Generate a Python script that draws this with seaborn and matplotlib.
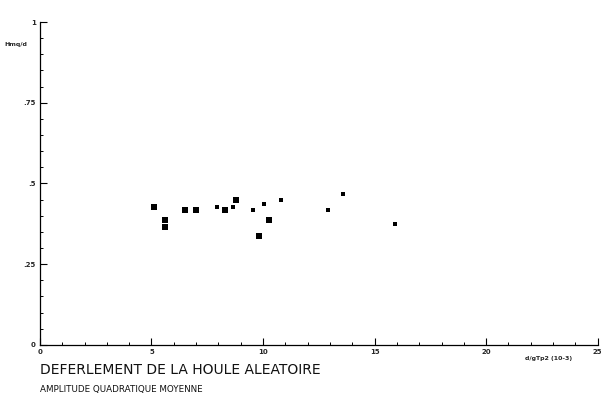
import numpy as np
import pandas as pd
import matplotlib
matplotlib.use('Agg')
import matplotlib.pyplot as plt
from matplotlib.ticker import MultipleLocator
import seaborn as sns

# data (x in 10^-3, y = Hmq/d)
big_x = [5.1, 5.6, 5.6, 6.5, 7.0, 8.3, 8.8, 9.8, 10.25]
big_y = [0.427, 0.387, 0.365, 0.417, 0.417, 0.417, 0.449, 0.336, 0.387]
small_x = [7.95, 8.65, 9.55, 10.05, 10.8, 12.9, 13.6, 15.9]
small_y = [0.427, 0.427, 0.417, 0.437, 0.449, 0.417, 0.468, 0.375]

xticks = [0, 5, 10, 15, 20, 25]
xlabels = ['0', '5', '10', '15', '20', '25']
yticks = [0, 0.25, 0.5, 0.75, 1]
ylabels = ['0', '.25', '.5', '.75', '1']

df_big = pd.DataFrame({'x': big_x, 'y': big_y})
df_small = pd.DataFrame({'x': small_x, 'y': small_y})

sns.set_style('white')
plt.rcParams['font.family'] = ['DejaVu Sans']

fig = plt.figure(figsize=(6.05, 4.01), dpi=100)
ax = fig.add_axes([0.066, 0.140, 0.922, 0.805])

sns.scatterplot(data=df_big, x='x', y='y', marker='s', s=18, color='black',
                edgecolor='black', linewidth=0, ax=ax)
sns.scatterplot(data=df_small, x='x', y='y', marker='s', s=7, color='black',
                edgecolor='black', linewidth=0, ax=ax)

ax.set_xlim(0, 25)
ax.set_ylim(0, 1)
ax.set_xticks(xticks)
ax.set_xticklabels(xlabels, fontsize=5, fontweight='bold')
ax.set_yticks(yticks)
ax.set_yticklabels(ylabels, fontsize=5, fontweight='bold')
ax.xaxis.set_minor_locator(MultipleLocator(1))
ax.yaxis.set_minor_locator(MultipleLocator(0.05))
ax.tick_params(axis='both', which='both', bottom=True, left=True)
ax.tick_params(axis='both', which='major', direction='in', length=5, width=0.8,
               color='black', pad=3)
ax.tick_params(axis='both', which='minor', direction='in', length=2.5, width=0.7,
               color='black')
ax.set_xlabel('')
ax.set_ylabel('')

for side in ['top', 'right']:
    ax.spines[side].set_visible(False)
for side in ['left', 'bottom']:
    ax.spines[side].set_color('black')
    ax.spines[side].set_linewidth(0.9)

fig.text(0.008, 0.89, 'Hmq/d', fontsize=4.5, fontweight='bold',
         ha='left', va='center')
fig.text(0.868, 0.105, 'd/gTp2 (10-3)', fontsize=4.5, fontweight='bold',
         ha='left', va='center')

fig.text(0.066, 0.077, 'DEFERLEMENT DE LA HOULE ALEATOIRE', fontsize=10,
         color='#111111', ha='left', va='center')
fig.text(0.066, 0.028, 'AMPLITUDE QUADRATIQUE MOYENNE', fontsize=6.3,
         color='#111111', ha='left', va='center')

fig.savefig('out.png', dpi=100)
